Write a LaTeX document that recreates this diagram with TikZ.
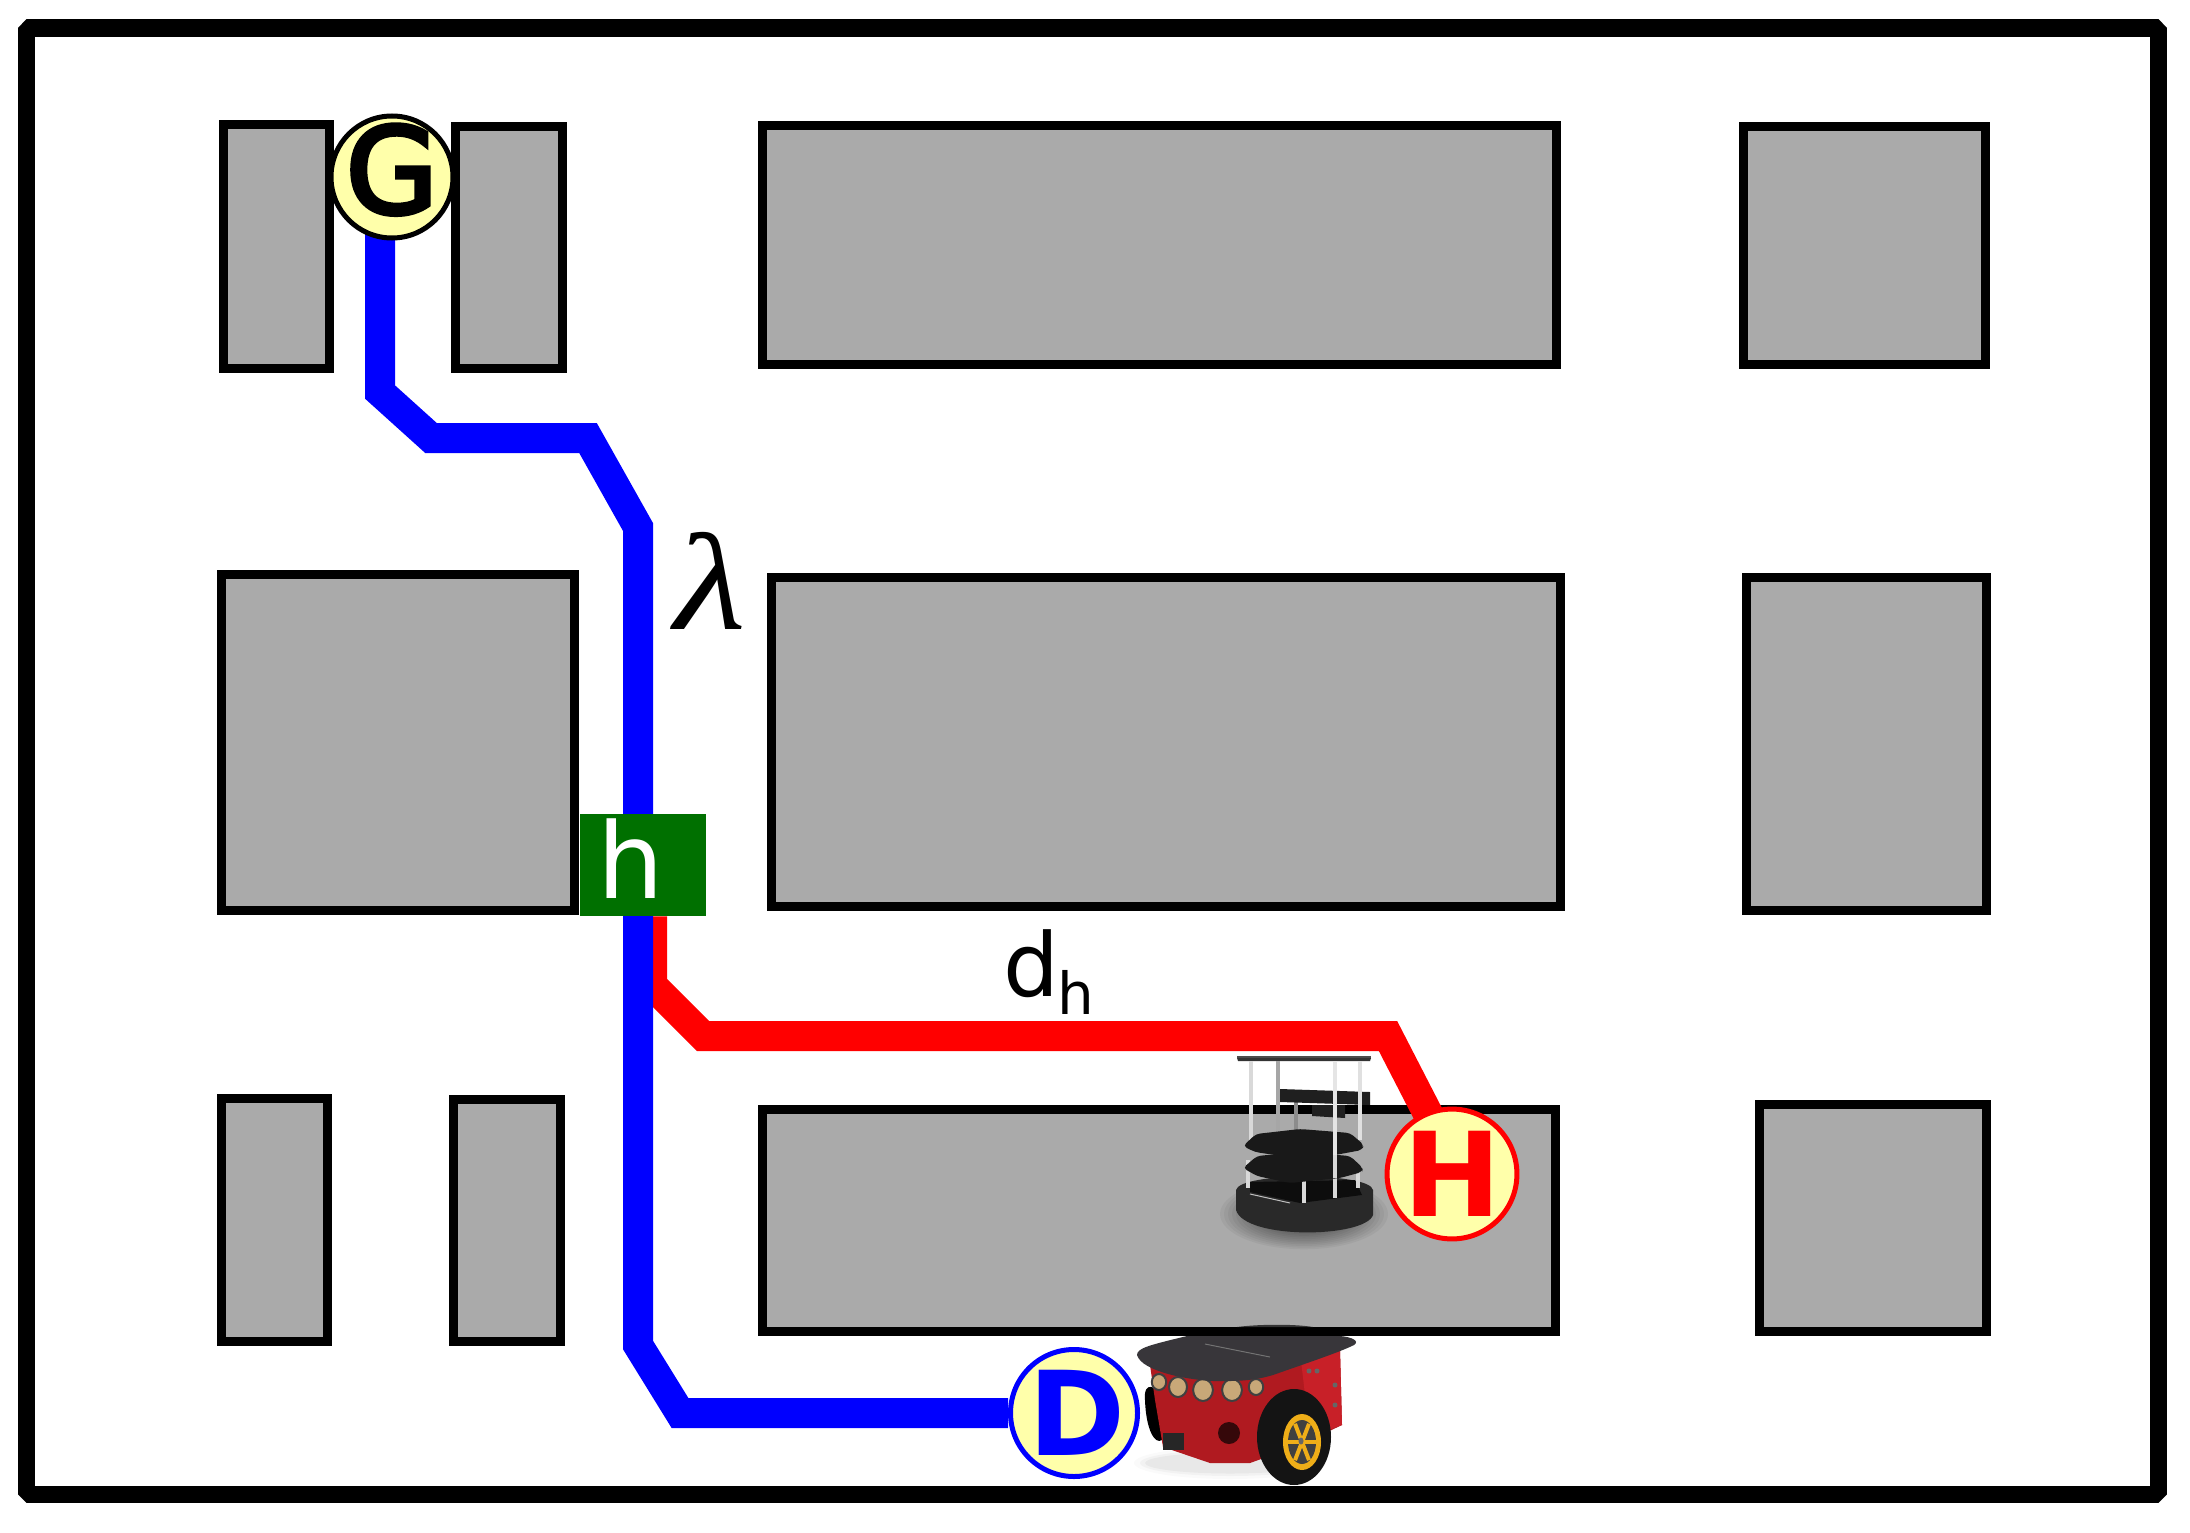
\documentclass[tikz,border=0pt]{standalone}
\usepackage{fontspec}
\setmainfont{DejaVu Sans}
\newfontfamily\gfont[FakeBold=4]{DejaVu Sans}
\newfontfamily\lamfont{Liberation Serif}
\usetikzlibrary{calc}
\pgfdeclarelayer{rooms}
\pgfdeclarelayer{routes}
\pgfsetlayers{rooms,routes,main}
\definecolor{roomgray}{HTML}{AAAAAA}
\definecolor{badge}{HTML}{FFFFAA}
\definecolor{hgreen}{HTML}{007000}
\definecolor{plate}{HTML}{38363A}
\definecolor{bodyred}{HTML}{B01A20}
\definecolor{bodyred2}{HTML}{C82028}
\definecolor{rimyellow}{HTML}{EFAE18}
\definecolor{sonar}{HTML}{C8A878}
\tikzset{
  x=1pt,y=-1pt,
  wall/.style={draw=black,line width=17.5pt,line join=bevel},
  room/.style={draw=black,fill=roomgray,line width=9.5pt,line join=miter},
  route/.style={line width=30pt,line join=miter,line cap=butt},
  badgenode/.style={circle,fill=badge,line width=5pt,minimum size=127pt,inner sep=0pt,
     font=\fontsize{117}{117}\selectfont\bfseries},
  poleline/.style={draw=#1,line width=4.5pt},
}
\newcommand{\roomat}[4]{\draw[room] (#1+4.5,#2+4.5) rectangle (#3-4.5,#4-4.5);}
\begin{document}
\begin{tikzpicture}
\useasboundingbox (0,0) rectangle (2190,1533);

% badges and labels
\node[badgenode,draw=black,text=black,minimum size=122pt,font=\fontsize{119}{119}\gfont] (G) at (392,177)
   {\raisebox{-36pt}[0pt][0pt]{\makebox[0pt]{G}}};
\node[badgenode,draw=red,text=red] (H) at (1452,1174) {H};
\node[badgenode,draw=blue,text=blue] (D) at (1074,1413)
   {\raisebox{-42pt}[0pt][0pt]{\makebox[0pt]{\hspace{7pt}D}}};
\node[fill=hgreen,minimum width=126pt,minimum height=102pt,inner sep=0pt,anchor=north west] (hbox) at (580,814) {};
\node[anchor=base,text=white,font=\fontsize{105}{105}\selectfont,inner sep=0pt] (hlabel) at (631,898) {h};
\node[anchor=base,inner sep=0pt,font=\fontsize{138}{138}\lamfont\itshape] (lambda) at (710,629) {\scalebox{1.2}[1]{λ}};
\node[anchor=base west,inner sep=0pt,font=\fontsize{88}{88}\selectfont] (dh) at (1003,996)
   {d\hspace{-2pt}\raisebox{-18pt}{\fontsize{58}{58}\selectfont h}};

% way points
\coordinate (b1) at (380,392);
\coordinate (b2) at (431,438);
\coordinate (b3) at (588,438);
\coordinate (b4) at (638,527);
\coordinate (b5) at (638,1345);
\coordinate (b6) at (680,1413);
\coordinate (r1) at (652,985);
\coordinate (r2) at (703,1036);
\coordinate (r3) at (1388,1036);

\begin{pgfonlayer}{rooms}
\fill[white] (0,0) rectangle (2190,1533);
\draw[wall] (26.5,28) rectangle (2158.5,1494.5);
\roomat{219}{120}{334}{373}
\roomat{451}{122}{567}{373}
\roomat{758}{121}{1561}{369}
\roomat{1739}{122}{1990}{369}
\roomat{217}{570}{579}{915}
\roomat{767}{573}{1565}{911}
\roomat{1742}{573}{1991}{915}
\roomat{217}{1094}{332}{1346}
\roomat{449}{1095}{565}{1346}
\roomat{758}{1105}{1560}{1336}
\roomat{1755}{1100}{1991}{1336}
\end{pgfonlayer}

\begin{pgfonlayer}{routes}
\draw[route,red] (hbox.south -| r1) -- (r1) -- (r2) -- (r3) -- ($(H.center)+(7,0)$);
\draw[route,blue] (G.center -| b1) -- (b1) -- (b2) -- (b3) -- (b4) -- (b5) -- (b6) -- (D.west);
\end{pgfonlayer}

% ---- turtle-type robot on the room (grey) ----
\begin{scope}
  \foreach \g in {84,80,76,72,68,64,60,56,52,48,44}{
    \fill[black,opacity=0.045] (1304,1214) ellipse ({\g} and {\g*0.42});
  }
  \fill[black!80] (1237,1058) -- (1371,1058) -- (1370,1061) -- (1238,1061) -- cycle;
  \fill[black!70] (1237,1056) rectangle (1371,1058);
  % rear poles
  \draw[poleline=black!35] (1278,1061) -- (1278,1135);
  \draw[poleline=black!45] (1296,1100) -- (1296,1135);
  % camera
  \fill[black!88] (1280,1089) -- (1370,1092) -- (1370,1105) -- (1280,1102) -- cycle;
  \fill[black!88] (1312,1105) -- (1345,1105) -- (1345,1118) -- (1312,1116) -- cycle;
  % front poles
  \draw[poleline=black!15] (1251,1061) -- (1251,1140);
  \draw[poleline=black!12] (1360,1061) -- (1360,1140);
  % base
  \fill[black!84] (1236,1190) .. controls (1240,1172) and (1370,1172) .. (1373,1190)
     -- (1373,1215) .. controls (1365,1238) and (1245,1240) .. (1236,1210) -- cycle;
  \fill[black!95] (1250,1182) -- (1355,1180) -- (1362,1195) -- (1300,1203) -- (1250,1192) -- cycle;
  \draw[black!25,line width=1pt] (1250,1194) -- (1290,1203);
  \draw[poleline=black!15] (1248,1160) -- (1248,1188);
  \draw[poleline=black!15] (1304,1180) -- (1304,1203);
  \draw[poleline=black!15] (1335,1165) -- (1335,1198);
  \draw[poleline=black!15] (1358,1165) -- (1358,1188);
  % plates
  \fill[black!90,rounded corners=4pt] (1243,1168) -- (1257,1156) -- (1300,1152) -- (1350,1156) -- (1363,1168) -- (1362,1172) -- (1340,1178) -- (1290,1183) -- (1257,1176) -- cycle;
  \fill[black!90,rounded corners=4pt] (1243,1146) -- (1256,1134) -- (1300,1129) -- (1350,1133) -- (1364,1145) -- (1362,1150) -- (1335,1155) -- (1295,1158) -- (1255,1152) -- cycle;
  \draw[poleline=black!10] (1335,1061) -- (1335,1155);
  \draw[poleline=black!15] (1335,1155) -- (1335,1178);
\end{scope}

% ---- red robot beneath the room ----
\begin{scope}
  \foreach \o/\g in {0.02/16,0.03/10,0.04/5}{
    \fill[black,opacity=\o] (1230,1463) ellipse ({80+\g} and {8+\g/2});
  }
  \fill[black] (1145,1400) .. controls (1143,1380) and (1158,1385) .. (1162,1400) -- (1162,1440) .. controls (1155,1445) and (1146,1430) .. cycle;
  \fill[bodyred] (1150,1365) -- (1340,1350) -- (1342,1425) -- (1300,1445) -- (1250,1463) -- (1210,1463) -- (1163,1447) -- (1155,1400) -- cycle;
  \fill[bodyred2] (1300,1352) -- (1340,1350) -- (1342,1425) -- (1310,1437) -- cycle;
  \fill[black!85] (1163,1433) rectangle (1184,1450);
  \fill[black!70!bodyred] (1229,1433) circle (11);
  % sonars
  \foreach \x/\y/\r in {1159/1382/8,1178/1387/10,1203/1390/11,1232/1390/11,1256/1387/8}{
    \fill[sonar,draw=black!75,line width=2pt] (\x,\y) ellipse ({\r*0.9} and \r);
  }
  % plate
  \fill[plate] (1137,1355) .. controls (1137,1348) and (1150,1345) .. (1187,1336) -- (1340,1336)
     .. controls (1352,1337) and (1360,1341) .. (1354,1345)
     .. controls (1340,1352) and (1310,1362) .. (1273,1375)
     .. controls (1250,1382) and (1230,1381) .. (1213,1381)
     .. controls (1190,1380) and (1142,1372) .. (1137,1355) -- cycle;
  \fill[black!80] (1237,1327) .. controls (1260,1324) and (1295,1324) .. (1313,1327) -- cycle;
  \draw[black!55,line width=1pt] (1205,1344) -- (1270,1357);
  % panel dots
  \foreach \x/\y in {1309/1371,1317/1371,1335/1385,1335/1405}{
    \fill[black!60] (\x,\y) circle (2.5);
  }
  % wheel
  \fill[black!92] (1294,1437) ellipse (37 and 48);
  \fill[rimyellow] (1302,1442) ellipse (19 and 28);
  \fill[black!75] (1302,1442) ellipse (14 and 22);
  \foreach \a in {0,60,120,180,240,300}{
    \draw[rimyellow,line width=4pt] (1302,1442) -- ++({14*cos(\a)},{21*sin(\a)});
  }
  \fill[black!60] (1301,1441) ellipse (2.5 and 3.5);
\end{scope}
\end{tikzpicture}
\end{document}
